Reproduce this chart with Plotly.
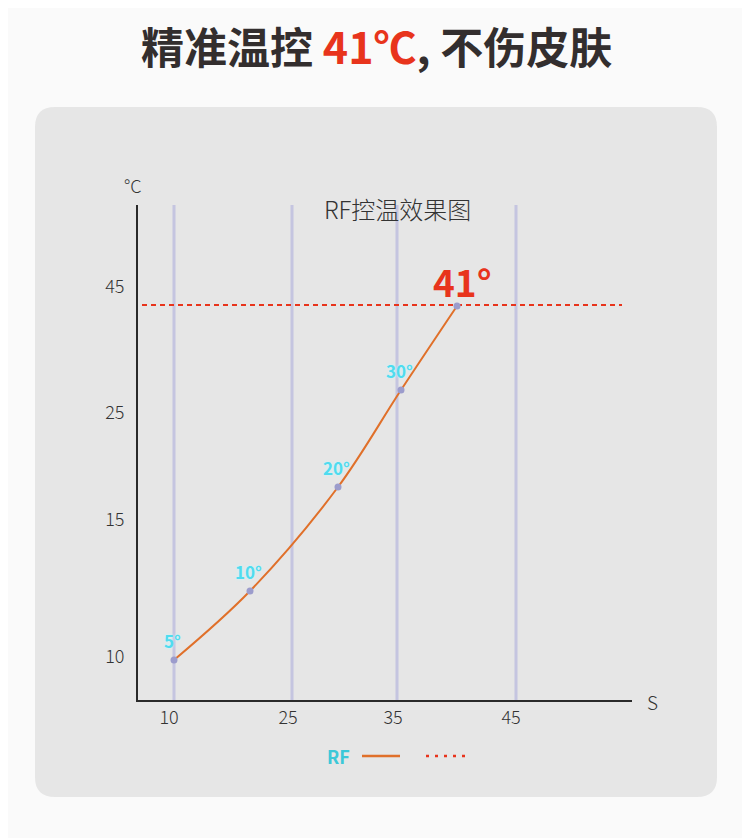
import plotly.graph_objects as go

# ---- data (axis units are proportional to the drawn scale) ----
point_labels = ["5°", "10°", "20°", "30°", "41°"]
point_x = [36, 112, 200, 263, 319]
point_y = [40, 109, 213, 310, 394]

x_tick_pos = [31, 150, 255, 373]
x_tick_text = ["10", "25", "35", "45"]
grid_x = [36, 154, 259, 378]

y_tick_pos = [43, 180, 287, 413]
y_tick_text = ["10", "15", "25", "45"]

limit_x = [4, 484]
limit_y = [395, 395]

OFF = 8  # browser body margin
W, H = 750 - OFF, 838 - OFF
L, T = 138 - OFF, 205 - OFF
R = W - (632 - OFF)
B = H - (700 - OFF)
XR = [0, 494]
YR = [0, 495]

FONT = "Noto Sans CJK SC"
RED = "#e8341c"
ORANGE = "#e0702a"
CYAN = "#4fdcef"


def px2paper(px, py):
    px -= OFF
    py -= OFF
    return (px - L) / (W - L - R), (H - B - py) / (H - T - B)


fig = go.Figure()

# grid lines
for gx in grid_x:
    fig.add_trace(go.Scatter(x=[gx, gx], y=[0, 495], mode="lines",
                             line=dict(color="rgba(190,190,222,0.85)", width=3),
                             hoverinfo="skip", showlegend=False))

# curve
fig.add_trace(go.Scatter(x=point_x, y=point_y, mode="lines",
                         line=dict(color=ORANGE, width=2, shape="spline", smoothing=1.0),
                         showlegend=False, hoverinfo="skip"))
# limit line
fig.add_trace(go.Scatter(x=limit_x, y=limit_y, mode="lines",
                         line=dict(color=RED, width=2, dash="5px,4px"),
                         showlegend=False, hoverinfo="skip"))
# markers
fig.add_trace(go.Scatter(x=point_x, y=point_y, mode="markers",
                         marker=dict(color="#9c9ccc", size=7),
                         showlegend=False, hoverinfo="skip"))

shapes = []
# card background
cx0, cy0, cx1, cy1, r = 35, 107, 717, 797, 20
def P(px, py):
    a, b = px2paper(px, py)
    return f"{a:.5f},{b:.5f}"
path = (f"M {P(cx0 + r, cy0)} L {P(cx1 - r, cy0)} Q {P(cx1, cy0)} {P(cx1, cy0 + r)} "
        f"L {P(cx1, cy1 - r)} Q {P(cx1, cy1)} {P(cx1 - r, cy1)} "
        f"L {P(cx0 + r, cy1)} Q {P(cx0, cy1)} {P(cx0, cy1 - r)} "
        f"L {P(cx0, cy0 + r)} Q {P(cx0, cy0)} {P(cx0 + r, cy0)} Z")
shapes.append(dict(type="path", xref="paper", yref="paper", path=path,
                   fillcolor="#e6e6e6", line=dict(width=0), layer="below"))

# legend keys
a0, b0 = px2paper(362, 756)
a1, _ = px2paper(400, 756)
shapes.append(dict(type="line", xref="paper", yref="paper", x0=a0, x1=a1, y0=b0, y1=b0,
                   line=dict(color=ORANGE, width=2.5)))
a0, b0 = px2paper(426, 756)
a1, _ = px2paper(467, 756)
shapes.append(dict(type="line", xref="paper", yref="paper", x0=a0, x1=a1, y0=b0, y1=b0,
                   line=dict(color=RED, width=2.5, dash="3px,6px")))

annotations = []


def note(px, py, text, size, color, weight=None):
    a, b = px2paper(px, py)
    f = dict(family=FONT, size=size, color=color)
    if weight:
        f["weight"] = weight
    annotations.append(dict(xref="paper", yref="paper", x=a, y=b, showarrow=False,
                            xanchor="center", yanchor="middle", text=text, font=f))


note(376, 45, f"<b>精准温控 <span style='color:{RED}'>41℃</span>, 不伤皮肤</b>", 43, "#332e2e")
note(397, 208, "RF控温效果图", 24, "#333333", 300)
note(133, 185, "°C", 18, "#333333", 300)
note(652, 701, "S", 19, "#333333", 300)
note(338, 756, "<b>RF</b>", 18, "#3cc8d8")

# point labels
for lx_, ly_, t in zip(point_x[:-1], point_y[:-1], point_labels[:-1]):
    annotations.append(dict(x=lx_, y=ly_, showarrow=False, yshift=20, xshift=-2,
                            xanchor="center", yanchor="middle",
                            text=f"<b>{t}</b>",
                            font=dict(family=FONT, size=17, color=CYAN,
                                      shadow="0px 0px 3px #c8f6ff")))
annotations.append(dict(x=point_x[-1], y=point_y[-1], showarrow=False, yshift=25, xshift=5,
                        xanchor="center", yanchor="middle",
                        text=f"<b>{point_labels[-1]}</b>",
                        font=dict(family=FONT, size=37, color=RED)))

fig.update_layout(
    width=W, height=H,
    margin=dict(l=L, r=R, t=T, b=B, pad=0),
    paper_bgcolor="#fafafa", plot_bgcolor="rgba(0,0,0,0)",
    shapes=shapes, annotations=annotations,
    showlegend=False,
    xaxis=dict(range=XR, tickmode="array", tickvals=x_tick_pos, ticktext=x_tick_text,
               showgrid=False, zeroline=False, showline=True, linecolor="#2a2a2a",
               linewidth=2, ticks="",
               tickfont=dict(family=FONT, size=18, color="#333333", weight=300),
               fixedrange=True),
    yaxis=dict(range=YR, tickmode="array", tickvals=y_tick_pos, ticktext=y_tick_text,
               showgrid=False, zeroline=False, showline=True, linecolor="#2a2a2a",
               linewidth=2, ticks="", ticklabelstandoff=8,
               tickfont=dict(family=FONT, size=18, color="#333333", weight=300),
               fixedrange=True),
)

fig.write_html("out.html")
